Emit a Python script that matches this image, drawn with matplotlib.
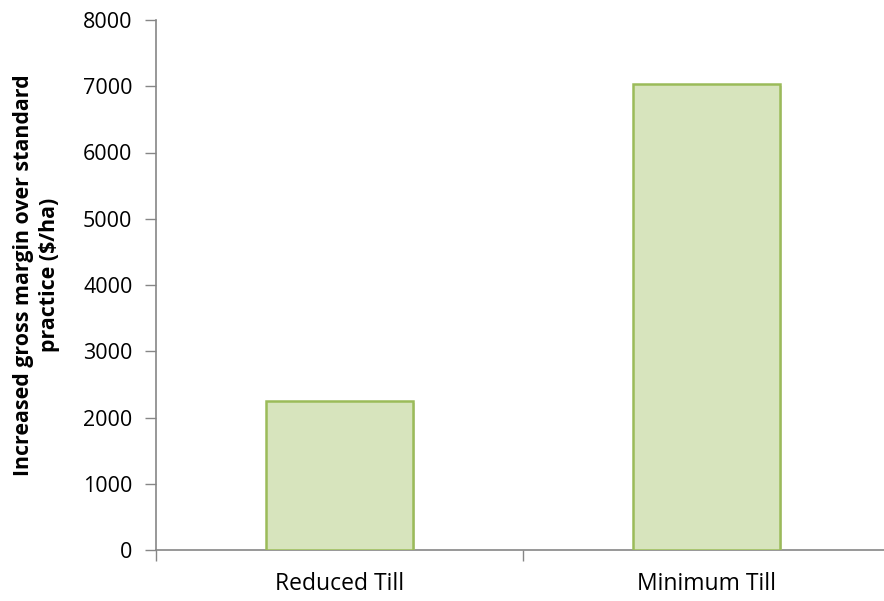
import matplotlib
matplotlib.use("Agg")
import matplotlib.pyplot as plt
import matplotlib.patheffects as pe

categories = ["Reduced Till", "Minimum Till"]
values = [2250, 7030]
y_ticks = [0, 1000, 2000, 3000, 4000, 5000, 6000, 7000, 8000]
y_label = "Increased gross margin over standard\npractice ($/ha)"

plt.rcParams["font.family"] = ["Open Sans", "DejaVu Sans"]

fig = plt.figure(figsize=(8.84, 6.01), dpi=100)
W, H = 884, 601
left, right, bottom, top = 156, 890, 550, 20
ax = fig.add_axes([left / W, (H - bottom) / H, (right - left) / W, (bottom - top) / H])

x = list(range(len(categories)))
bars = ax.bar(x, values, width=0.40, color="#D7E4BD", edgecolor="#9BBB59",
              linewidth=1.8, zorder=3)
for b in bars:
    b.set_path_effects([pe.SimplePatchShadow(offset=(1.5, -1.5), shadow_rgbFace="#bbbbbb", alpha=0.5),
                        pe.Normal()])

ax.set_xlim(-0.5, len(categories) - 0.5)
ax.set_ylim(0, 8000)
ax.set_yticks(y_ticks)
ax.set_xticks(x)
ax.set_xticklabels(categories, fontsize=16.5)
ax.tick_params(axis="x", length=0, pad=16)
ax.set_xticks([-0.5, 0.5, 1.5], minor=True)
ax.tick_params(axis="x", which="minor", length=8, width=1, color="#868686", direction="out")
ax.tick_params(axis="y", length=8, width=1, color="#868686", direction="out", labelsize=15.5, pad=9)

for s in ["top", "right"]:
    ax.spines[s].set_visible(False)
for s in ["left", "bottom"]:
    ax.spines[s].set_color("#868686")
    ax.spines[s].set_linewidth(1.2)

ax.set_ylabel(y_label, fontsize=15.4, fontweight="bold", linespacing=1.3)
ax.yaxis.set_label_coords(-0.131, 0.519)

fig.savefig("out.png", dpi=100)
